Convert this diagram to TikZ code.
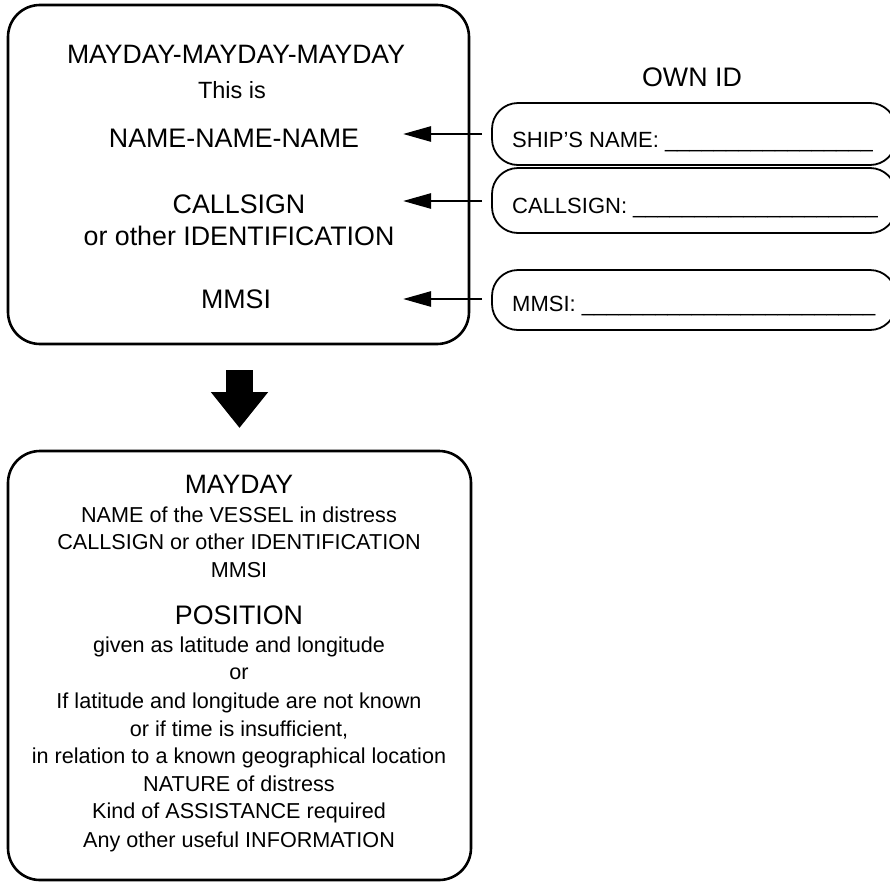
\documentclass[tikz,border=0pt]{standalone}
\usepackage{fontspec}
\setmainfont{Liberation Sans}
\usetikzlibrary{arrows.meta}
\begin{document}
\begin{tikzpicture}[x=1pt,y=-1pt,
  txt/.style={inner sep=0pt, anchor=base},
  ltxt/.style={inner sep=0pt, anchor=base west},
  ftitle/.style={font=\fontsize{26.6}{30}\selectfont},
  fmid/.style={font=\fontsize{26.8}{30}\selectfont},
  fthis/.style={font=\fontsize{23.5}{27}\selectfont},
  fid/.style={font=\fontsize{22}{26}\selectfont},
  fsmall/.style={font=\fontsize{21.6}{26}\selectfont},
  mainbox/.style={draw, line width=2.6pt, rounded corners=32pt, inner sep=0pt},
  idbox/.style={draw, line width=1.8pt, rounded corners=26pt, inner sep=0pt, minimum width=404pt},
  conn/.style={line width=2.6pt, -{Triangle[length=28pt,width=15pt]}},
  bigarrow/.style={line width=27pt, -{Triangle[length=36pt,width=55pt]}}
]
\useasboundingbox (0,0) rectangle (890,881);

% main boxes
\node[mainbox, minimum width=461pt, minimum height=339pt] (topbox) at (238.5,174.5) {};
\node[mainbox, minimum width=463pt, minimum height=429pt] (botbox) at (239.5,665.5) {};

% top box texts
\node[txt, ftitle] (t1) at (236,63.5) {MAYDAY-MAYDAY-MAYDAY};
\node[txt, fthis]  (t2) at (232,98) {This is};
\node[txt, fmid]   (t3) at (234,147) {NAME-NAME-NAME};
\node[txt, fmid]   (t4) at (239,213) {CALLSIGN};
\node[txt, fmid]   (t5) at (239,245) {or other IDENTIFICATION};
\node[txt, fmid]   (t6) at (236,308) {MMSI};

% own id
\node[txt, fmid] (ownid) at (692,86.5) {OWN ID};
\node[idbox, minimum height=62pt] (b1) at (694,134) {};
\node[idbox, minimum height=65pt] (b2) at (694,200.5) {};
\node[idbox, minimum height=60pt] (b3) at (694,300) {};
\node[ltxt, fid] (s1) at (512,147) {SHIP’S NAME: \_\_\_\_\_\_\_\_\_\_\_\_\_\_\_\_\_};
\node[ltxt, fid] (s2) at (512,213) {CALLSIGN: \_\_\_\_\_\_\_\_\_\_\_\_\_\_\_\_\_\_\_\_};
\node[ltxt, fid] (s3) at (512,311) {MMSI: \_\_\_\_\_\_\_\_\_\_\_\_\_\_\_\_\_\_\_\_\_\_\_\_};

% connectors
\coordinate (e1) at (403,134);
\coordinate (e2) at (403,201);
\coordinate (e3) at (403,299);
\draw[conn] ([xshift=-9pt]b1.west) -- (e1);
\draw[conn] ([xshift=-9pt]b2.west |- e2) -- (e2);
\draw[conn] ([xshift=-9pt]b3.west |- e3) -- (e3);

% big arrow
\coordinate (a0) at (239.5,370);
\coordinate (a1) at (239.5,428);
\draw[bigarrow] (a0) -- (a1);

% bottom box texts
\node[txt, ftitle] (u1)  at (239,493) {MAYDAY};
\node[txt, fsmall] (u2)  at (239,522) {NAME of the VESSEL in distress};
\node[txt, fsmall] (u3)  at (239,549) {CALLSIGN or other IDENTIFICATION};
\node[txt, fsmall] (u4)  at (239,577) {MMSI};
\node[txt, fmid]   (u5)  at (239,624) {POSITION};
\node[txt, fsmall] (u6)  at (239,652) {given as latitude and longitude};
\node[txt, fsmall] (u7)  at (239,679) {or};
\node[txt, fsmall] (u8)  at (239,708) {If latitude and longitude are not known};
\node[txt, fsmall] (u9)  at (239,736) {or if time is insufficient,};
\node[txt, fsmall] (u10) at (239,763) {in relation to a known geographical location};
\node[txt, fsmall] (u11) at (239,791) {NATURE of distress};
\node[txt, fsmall] (u12) at (239,818) {Kind of ASSISTANCE required};
\node[txt, fsmall] (u13) at (239,847) {Any other useful INFORMATION};
\end{tikzpicture}
\end{document}
